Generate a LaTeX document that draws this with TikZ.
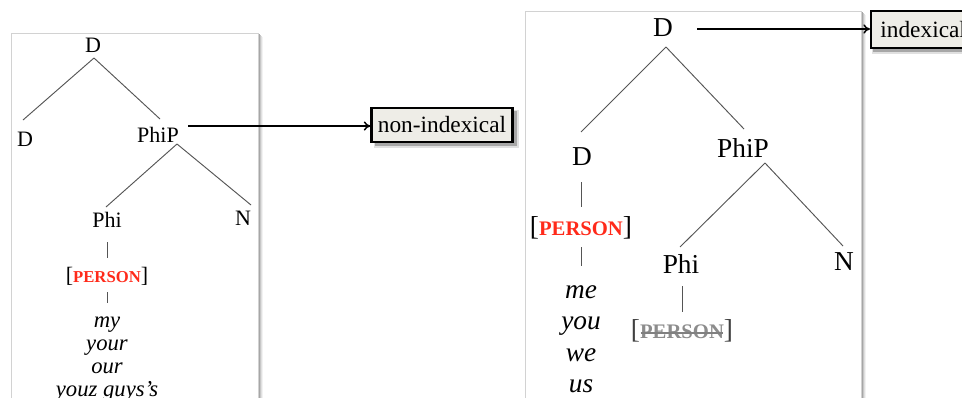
\documentclass[tikz,border=0pt]{standalone}
\usepackage{fontspec}
\setmainfont{Liberation Serif}
\usetikzlibrary{calc,arrows.meta}
\definecolor{persred}{HTML}{FF2A1A}
\definecolor{boxfill}{HTML}{EEEDE7}
\definecolor{treegray}{HTML}{555555}
\definecolor{framegray}{HTML}{D2D2D2}
\tikzset{
  lab/.style={inner sep=0pt, font=\fontsize{16.5}{16.5}\selectfont},
  labR/.style={inner sep=0pt, font=\fontsize{20.5}{20.5}\selectfont},
  word/.style={inner sep=0pt, anchor=base, font=\fontsize{17}{17}\selectfont\itshape},
  wordR/.style={inner sep=0pt, anchor=base, font=\fontsize{20.5}{20.5}\selectfont\itshape},
  treeline/.style={draw=treegray, line width=0.7pt},
  arrowline/.style={draw=black, line width=1.1pt, -{To[length=5pt,width=7pt]}},
  tagbox/.style={draw=black, line width=1.6pt, fill=boxfill, inner sep=0pt,
    font=\fontsize{17.5}{17.5}\selectfont},
}
\newcommand{\persL}{{\fontsize{16.5}{16.5}\selectfont[}{\color{persred}\bfseries\fontsize{12.5}{12.5}\selectfont PERSON}{\fontsize{16.5}{16.5}\selectfont]}}
\newcommand{\persR}{{\fontsize{20.5}{20.5}\selectfont[}{\color{persred}\bfseries\fontsize{15.5}{15.5}\selectfont PERSON}{\fontsize{20.5}{20.5}\selectfont]}}
\newcommand{\persS}{{\fontsize{20.5}{20.5}\selectfont\color{black!75}[}{\color{black!45}\bfseries\fontsize{15.5}{15.5}\selectfont PERSON}{\fontsize{20.5}{20.5}\selectfont\color{black!75}]}}
\begin{document}
\begin{tikzpicture}[x=0.75pt,y=-0.75pt]
\useasboundingbox (0,0) rectangle (962,397);
\clip (0,0) rectangle (962,397);
\fill[white] (0,0) rectangle (962,397);

% panel frames with right-side shadow
\foreach \d/\o in {1/0.35,2/0.22,3/0.12,4/0.05}{
  \draw[black, opacity=\o, line width=0.75pt] (258+\d,33+\d) -- (258+\d,400);
  \draw[black, opacity=\o, line width=0.75pt] (861+\d,11+\d) -- (861+\d,400);
}
\draw[framegray, line width=0.75pt] (11,400) -- (11,33) -- (258,33) -- (258,400);
\draw[framegray, line width=0.75pt] (525,400) -- (525,11) -- (861,11) -- (861,400);

% ---------- left tree ----------
\node[lab] (Dtop) at (93,45) {D};
\node[lab] (Dl) at (25,139) {D};
\node[lab] (PhiPl) at (158,135) {PhiP};
\node[lab] (Phil) at (107,220) {Phi};
\node[lab] (Nl) at (243,218) {N};
\node[inner sep=0pt] (PersL) at (107,276) {\persL};
\node[word] (w1) at (107,327) {my};
\node[word] (w2) at (107,350) {your};
\node[word] (w3) at (107,373) {our};
\node[word] (w4) at (107,396) {youz guys's};

\draw[treeline] ($(Dtop)+(1,13)$) -- ($(Dl)+(-2,-19)$);
\draw[treeline] ($(Dtop)+(1,13)$) -- ($(PhiPl)+(2,-16)$);
\draw[treeline] ($(PhiPl)+(19,9)$) -- ($(Phil)+(-1,-13)$);
\draw[treeline] ($(PhiPl)+(19,9)$) -- ($(Nl)+(8,-13)$);
\draw[treeline] ($(Phil)+(0,22)$) -- ($(PersL)+(0,-18)$);
\draw[treeline] ($(PersL)+(0,16)$) -- ($(w1)+(0,-21)$);

% ---------- right tree ----------
\node[labR] (Dtop2) at (663,28) {D};
\node[labR] (D2) at (582,157) {D};
\node[labR] (PhiP2) at (743,148) {PhiP};
\node[inner sep=0pt] (PersR) at (581,228) {\persR};
\node[wordR] (v1) at (581,298) {me};
\node[wordR] (v2) at (581,329.5) {you};
\node[wordR] (v3) at (581,361) {we};
\node[wordR] (v4) at (581,392.5) {us};
\node[labR] (Phi2) at (681,264) {Phi};
\node[labR] (N2) at (844,262) {N};
\node[inner sep=0pt] (PersS) at (682,331) {\persS};
\draw[black!50, line width=1pt] ($(PersS.west)+(10,2)$) -- ($(PersS.east)+(-10,2)$);

\draw[treeline] ($(Dtop2)+(3,19)$) -- ($(D2)+(-1,-25)$);
\draw[treeline] ($(Dtop2)+(3,19)$) -- ($(PhiP2)+(1,-19)$);
\draw[treeline] ($(D2)+(-1,25)$) -- ($(PersR)+(0,-21)$);
\draw[treeline] ($(PersR)+(0,19)$) -- ($(v1)+(0,-26)$);
\draw[treeline] ($(PhiP2)+(22,15)$) -- ($(Phi2)+(-1,-17)$);
\draw[treeline] ($(PhiP2)+(22,15)$) -- ($(N2)+(-1,-16)$);
\draw[treeline] ($(Phi2)+(1,22)$) -- ($(PersS)+(0,-19)$);

% ---------- tag boxes ----------
\fill[black, opacity=0.25] (375,111) rectangle (517,146);
\fill[black, opacity=0.12] (374,110) rectangle (519,148);
\node[tagbox, minimum width=141*0.75pt, minimum height=34*0.75pt] (nonidx) at (442,125) {non-indexical};
\fill[black, opacity=0.25] (873,14) rectangle (990,52);
\fill[black, opacity=0.12] (872,13) rectangle (992,54);
\node[tagbox, anchor=west, minimum height=37*0.75pt, text width=110*0.75pt, align=left] (idx) at (870,29.5) {\hspace*{7pt}indexical};

\draw[arrowline] ($(PhiPl.east)+(9,-9)$) -- (nonidx.west |- {$(PhiPl.east)+(9,-9)$});
\draw[arrowline] ($(Dtop2.east)+(24,1)$) -- (idx.west |- {$(Dtop2.east)+(24,1)$});
\end{tikzpicture}
\end{document}
